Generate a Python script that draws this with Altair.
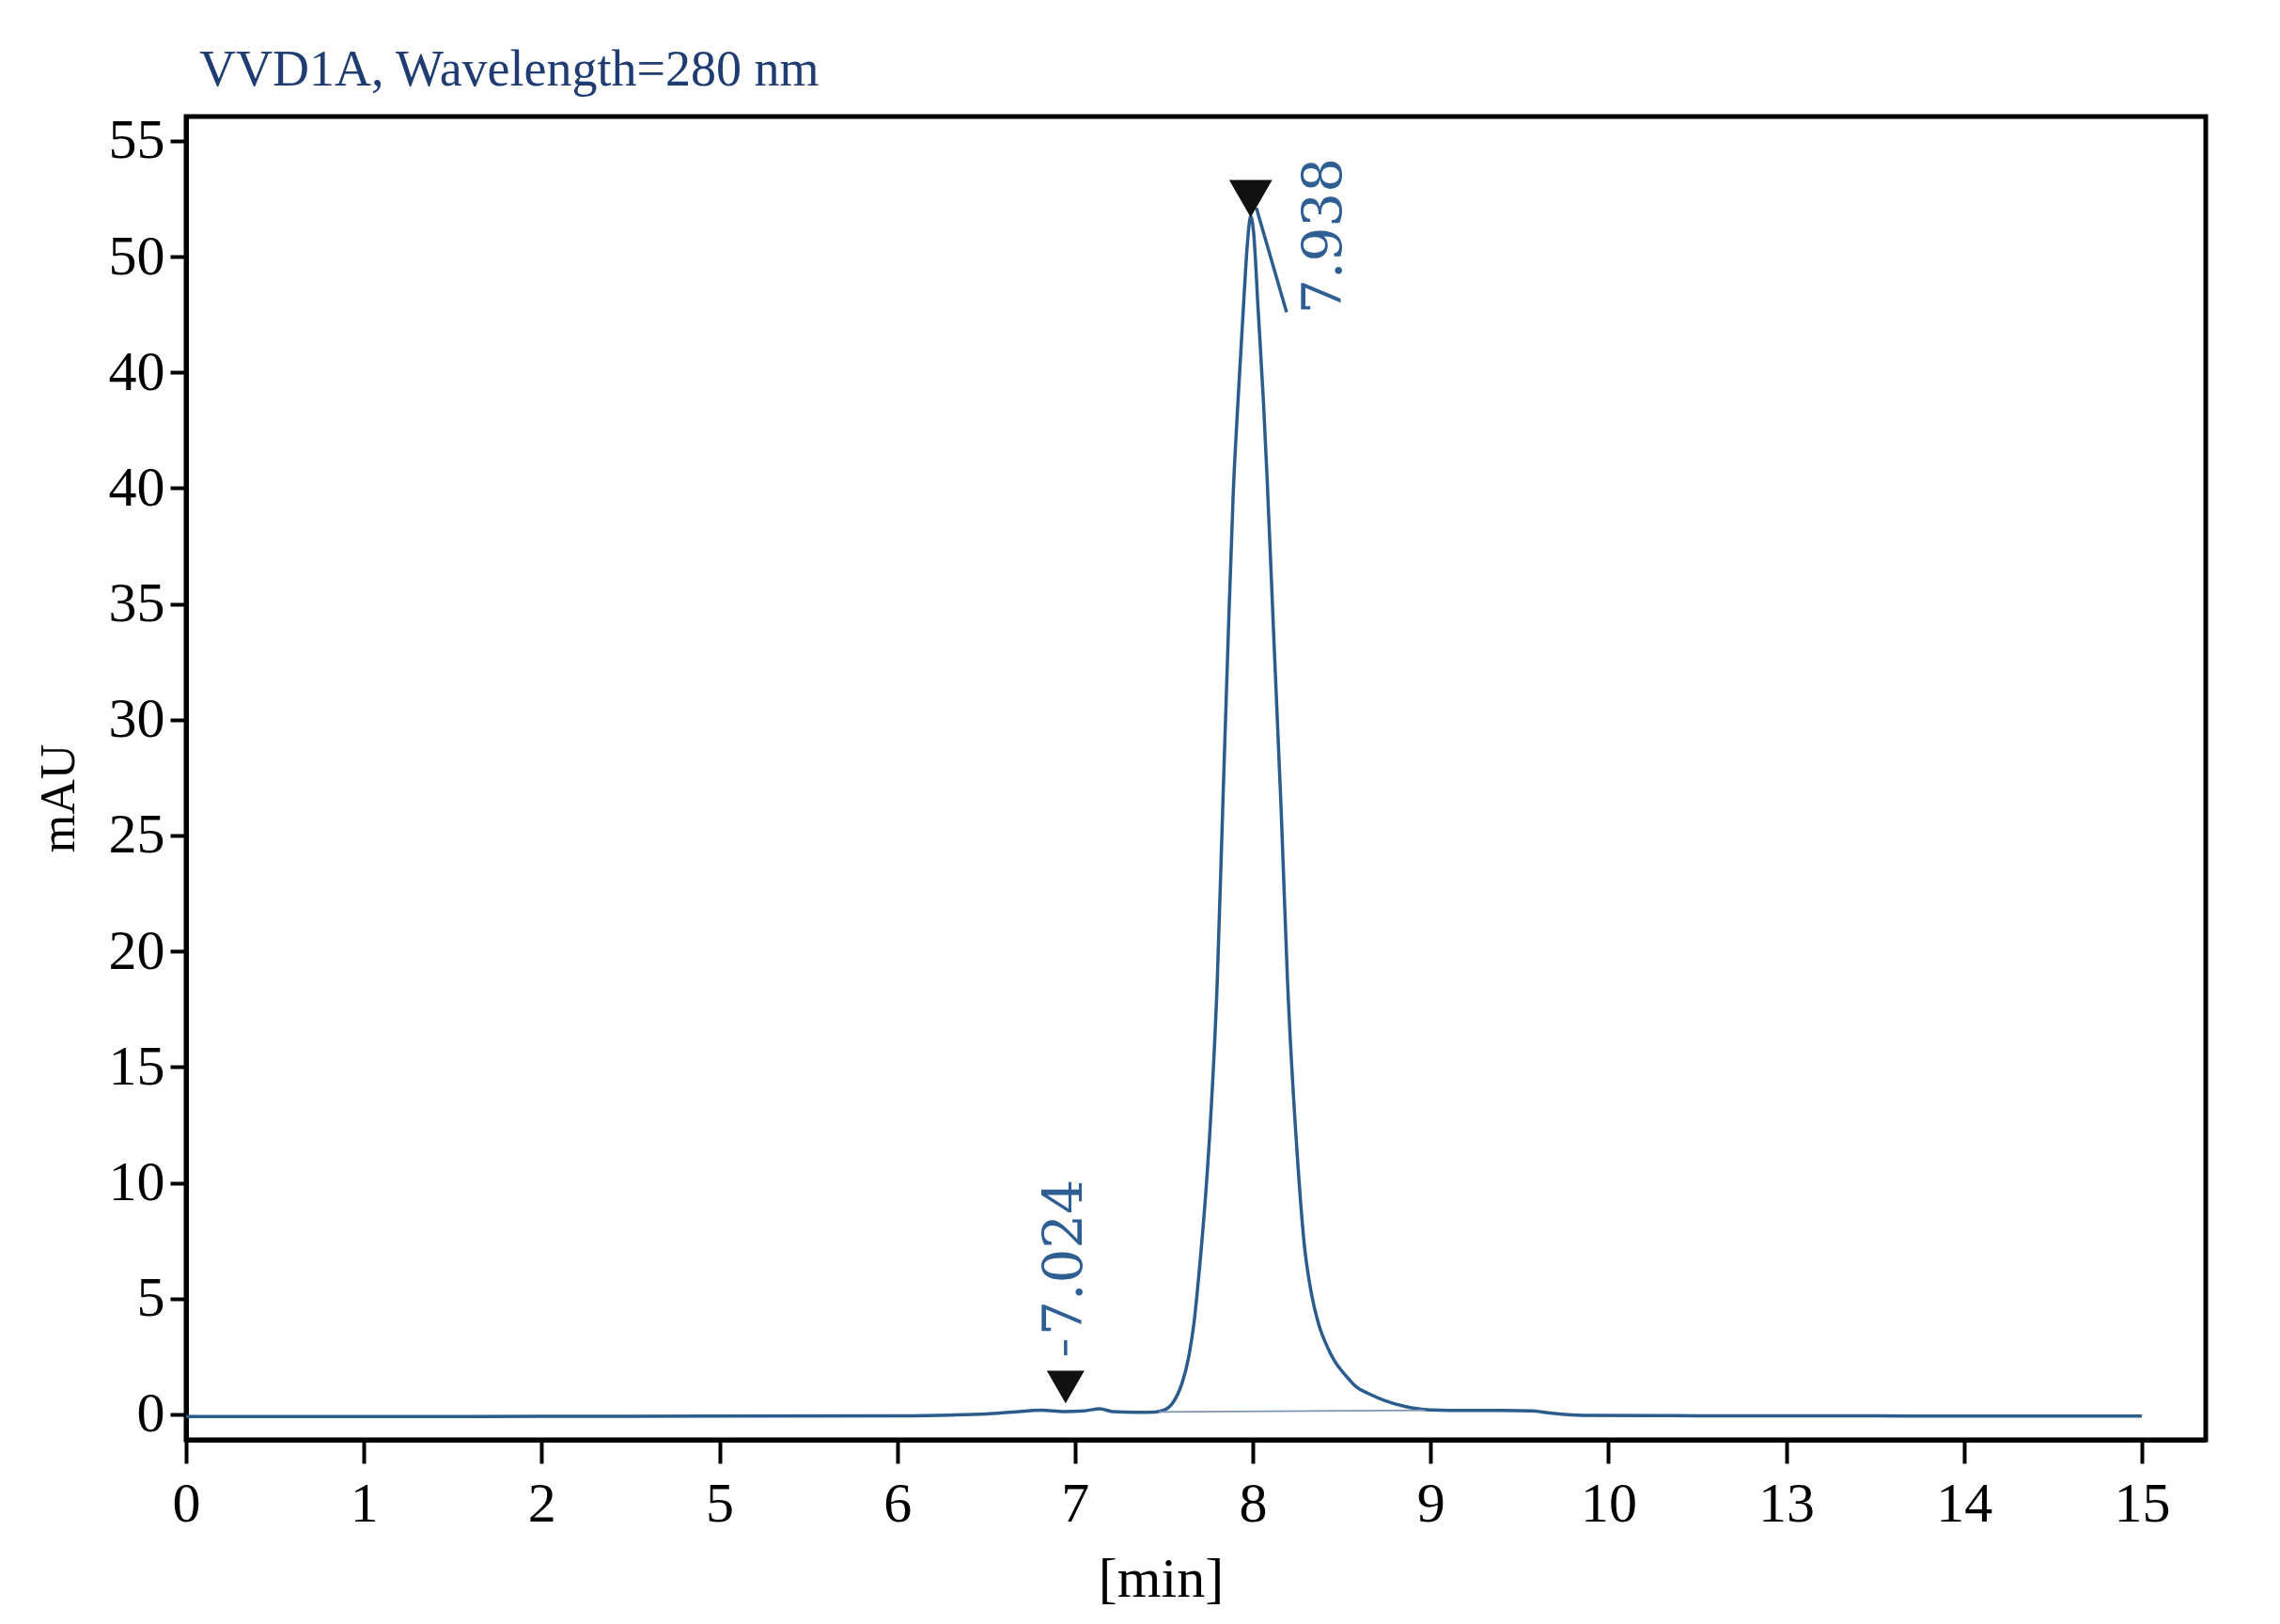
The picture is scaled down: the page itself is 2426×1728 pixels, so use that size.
import altair as alt
import pandas as pd

# ---- data (x in axis-position units: the axis has 12 evenly spaced ticks) ----
XTICK_POS = list(range(12))
XTICK_LABELS = ['0', '1', '2', '5', '6', '7', '8', '9', '10', '13', '14', '15']
YTICK_VALUES = [0, 5, 10, 15, 20, 25, 30, 35, 40, 45, 50, 55]
YTICK_LABELS = ['0', '5', '10', '15', '20', '25', '30', '35', '40', '40', '50', '55']

TITLE = 'VVD1A, Wavelength=280 nm'
X_TITLE = '[min]'
Y_TITLE = 'mAU'

trace_pos = [0.0, 1.0, 2.0, 3.0, 4.0, 4.3, 4.5, 4.65, 4.81, 4.94, 5.05, 5.14, 5.21,
             5.35, 5.45, 5.50, 5.54, 5.57, 5.60, 5.64, 5.67, 5.70, 5.73, 5.76, 5.80,
             5.83, 5.86, 5.89, 5.92, 5.95, 5.97, 5.988, 6.005, 6.03, 6.06, 6.08,
             6.12, 6.16, 6.195, 6.25, 6.29, 6.33, 6.37, 6.42, 6.46, 6.52, 6.58,
             6.65, 6.74, 6.85, 6.98, 7.2, 7.4, 7.57, 7.65, 7.72, 7.85, 8.5, 9.5,
             10.5, 11.0]
trace_mau = [-0.10, -0.10, -0.09, -0.08, -0.06, -0.03, 0.02, 0.10, 0.18, 0.12, 0.15,
             0.24, 0.12, 0.09, 0.10, 0.18, 0.40, 0.75, 1.3, 2.5, 4.0, 6.3, 9.0, 12.4,
             18.7, 26.0, 33.2, 39.8, 44.2, 48.2, 50.6, 51.75, 51.0, 47.7, 43.7, 40.5,
             33.2, 26.0, 18.75, 11.2, 7.3, 5.2, 3.9, 2.9, 2.3, 1.7, 1.2,
             0.9, 0.6, 0.35, 0.2, 0.17, 0.17, 0.15, 0.08, 0.02, -0.04, -0.06, -0.07,
             -0.08, -0.08]

# integration baseline under the main peak
base_pos = [5.47, 6.97]
base_mau = [0.10, 0.17]

# peak markers and labels
peak_pos = [4.947, 5.988]
peak_marker_mau = [1.18, 52.5]
peak_labels = ['7.024', '7.938']
label_pos = [4.947, 6.406]
label_mau = [6.78, 50.9]

# small leader strokes next to the markers
lead_x = [6.02, 4.947]
lead_y = [52.1, 3.2]
lead_x2 = [6.19, 4.947]
lead_y2 = [47.6, 2.55]

LINE_COLOR = '#2b5c8c'
TEXT_BLUE = '#2f5e93'
SERIF = 'Liberation Serif'

xscale = alt.Scale(domain=[0, 11.36], nice=False, zero=False)
yscale = alt.Scale(domain=[-1.1, 56.05], nice=False, zero=False)

x_label_expr = '[' + ','.join("'%s'" % s for s in XTICK_LABELS) + '][datum.value]'
y_label_expr = '[' + ','.join("'%s'" % s for s in YTICK_LABELS) + '][round(datum.value / 5)]'

trace_df = pd.DataFrame({'pos': trace_pos, 'mau': trace_mau})
base_df = pd.DataFrame({'pos': base_pos, 'mau': base_mau})
marker_df = pd.DataFrame({'pos': peak_pos, 'mau': peak_marker_mau,
                          'size': [1600, 2100]})
label_df = pd.DataFrame({'pos': label_pos, 'mau': label_mau, 'txt': peak_labels})
lead_df = pd.DataFrame({'x': lead_x, 'y': lead_y, 'x2': lead_x2, 'y2': lead_y2})
title_df = pd.DataFrame({'t': [TITLE]})

trace = alt.Chart(trace_df).mark_line(color=LINE_COLOR, strokeWidth=3.5,
                                      interpolate='monotone').encode(
    x=alt.X('pos:Q', scale=xscale,
            axis=alt.Axis(values=XTICK_POS, labelExpr=x_label_expr, title=X_TITLE,
                          grid=False, tickSize=25, tickWidth=4, tickColor='black',
                          domainColor='black', domainWidth=5, labelPadding=14,
                          labelFont=SERIF, labelFontSize=60, labelColor='black',
                          labelFlush=False, labelOverlap=False,
                          titleFont=SERIF, titleFontSize=60, titleFontWeight='normal',
                          titleColor='black', titleX=1037, titleY=166,
                          titleAlign='center', titleBaseline='alphabetic')),
    y=alt.Y('mau:Q', scale=yscale,
            axis=alt.Axis(values=YTICK_VALUES, labelExpr=y_label_expr, title=Y_TITLE,
                          grid=False, tickSize=17, tickWidth=4, tickColor='black',
                          domainColor='black', domainWidth=5, labelPadding=6,
                          labelFont=SERIF, labelFontSize=60, labelColor='black',
                          labelFlush=False, labelOverlap=False, labelBaseline='middle',
                          titleFont=SERIF, titleFontSize=52, titleFontWeight='normal',
                          titleColor='black', titleAngle=270, titleX=-136, titleY=725,
                          titleAlign='center', titleBaseline='middle')),
)

baseline = alt.Chart(base_df).mark_line(color='#7f93b3', strokeWidth=1.8).encode(
    x='pos:Q', y='mau:Q')

leads = alt.Chart(lead_df).mark_rule(color=LINE_COLOR, strokeWidth=3.5).encode(
    x='x:Q', y='y:Q', x2='x2:Q', y2='y2:Q')

markers = alt.Chart(marker_df).mark_point(shape='triangle-down', filled=True,
                                          color='#111111', opacity=1).encode(
    x='pos:Q', y='mau:Q',
    size=alt.Size('size:Q', scale=None, legend=None))

labels = alt.Chart(label_df).mark_text(font='DejaVu Serif', fontSize=58, angle=270,
                                       align='center', baseline='middle',
                                       color=TEXT_BLUE).encode(
    x='pos:Q', y='mau:Q', text='txt:N')

title = alt.Chart(title_df).mark_text(font=SERIF, fontSize=54, color='#1f3d73',
                                      align='left', baseline='alphabetic').encode(
    x=alt.value(14), y=alt.value(-33), text='t:N')

chart = alt.layer(trace, baseline, leads, markers, labels, title).properties(
    width=2149, height=1408,
    autosize=alt.AutoSizeParams(type='none'),
    padding={'left': 190, 'top': 116, 'right': 60, 'bottom': 190},
    background='white',
).configure_view(stroke='black', strokeWidth=5)

chart.save('out.html', embed_options={'renderer': 'svg', 'actions': False})
